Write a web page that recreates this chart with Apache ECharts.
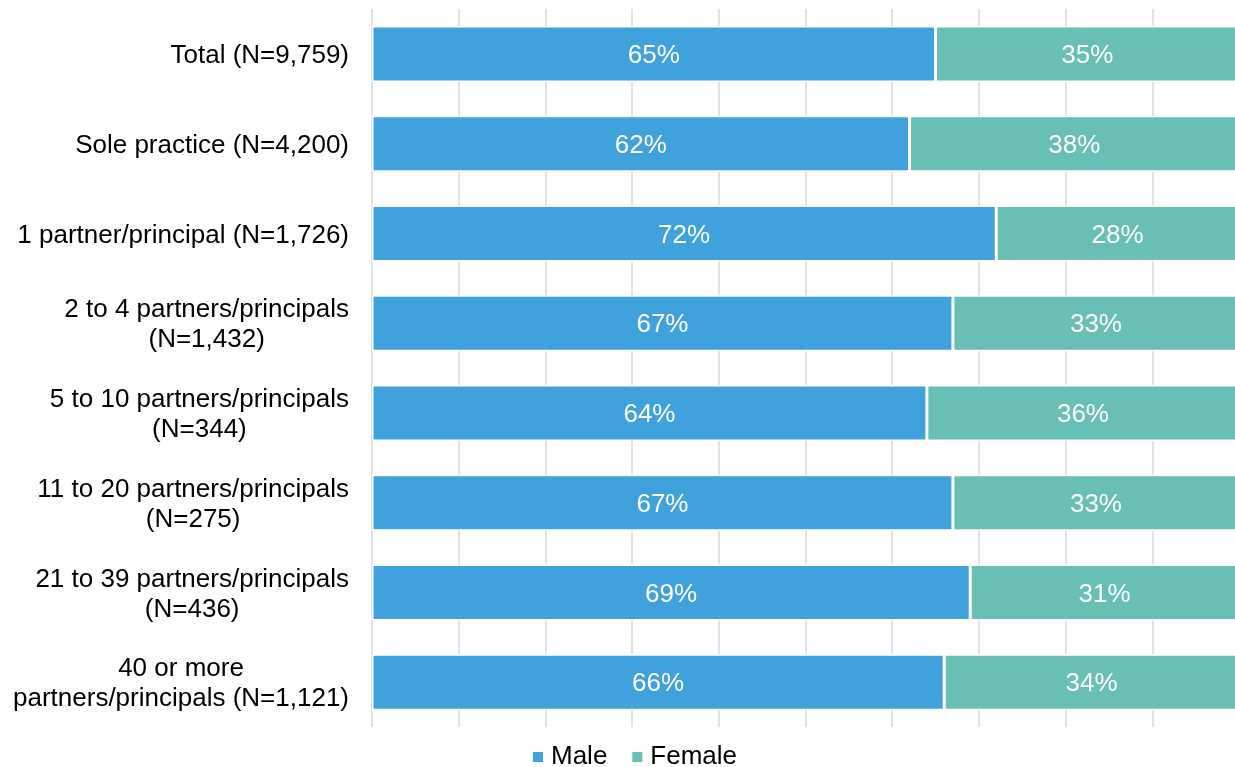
<!DOCTYPE html>
<html>
<head>
<meta charset="utf-8">
<script src="https://cdn.jsdelivr.net/npm/echarts@6/dist/echarts.min.js"></script>
<style>
  html, body { margin: 0; padding: 0; background: #ffffff; }
  #chart { width: 1235px; height: 767px; }
</style>
</head>
<body>
<div id="chart"></div>
<script>
// Practice-size groups, top to bottom
const categories = [
  'Total (N=9,759)',
  'Sole practice (N=4,200)',
  '1 partner/principal (N=1,726)',
  '2 to 4 partners/principals\n(N=1,432)',
  '5 to 10 partners/principals\n(N=344)',
  '11 to 20 partners/principals\n(N=275)',
  '21 to 39 partners/principals\n(N=436)',
  '40 or more\npartners/principals (N=1,121)'
];

// Share of each group, percent
const maleValues = [65, 62, 72, 67, 64, 67, 69, 66];
const femaleValues = [35, 38, 28, 33, 36, 33, 31, 34];

const seriesNames = ['Male', 'Female'];

const FONT = '"Liberation Sans", Arial, sans-serif';
const SIZE = 26;

// Wrap every line of a category label in a centred rich-text token so the
// lines centre on each other while the block stays right-aligned.
function centredLines(value) {
  return value.split('\n').map(function (line) { return '{c|' + line + '}'; }).join('\n');
}

function barLabel() {
  return {
    show: true,
    position: 'inside',
    offset: [0, 2],
    color: '#ffffff',
    fontFamily: FONT,
    fontSize: SIZE,
    formatter: function (p) { return p.value + '%'; }
  };
}

const chart = echarts.init(document.getElementById('chart'), null, { renderer: 'canvas' });

chart.setOption({
  animation: false,
  backgroundColor: '#ffffff',
  grid: { left: 372, top: 9, width: 867, height: 718, containLabel: false, outerBoundsMode: 'none' },
  xAxis: {
    type: 'value',
    min: 0,
    max: 100,
    interval: 10,
    axisLabel: { show: false },
    axisTick: { show: false },
    axisLine: { show: false },
    splitLine: { show: true, lineStyle: { color: '#d9d9d9', width: 1.5 } }
  },
  yAxis: {
    type: 'category',
    inverse: true,
    data: categories,
    axisTick: { show: false },
    axisLine: { show: false },
    axisLabel: {
      margin: 23,
      align: 'right',
      padding: [4, 0, 0, 0],
      color: '#000000',
      fontFamily: FONT,
      fontSize: SIZE,
      lineHeight: 30,
      formatter: centredLines,
      rich: {
        c: { align: 'center', fontFamily: FONT, fontSize: SIZE, lineHeight: 30, color: '#000000' }
      }
    }
  },
  legend: {
    data: seriesNames,
    left: 531,
    top: 744,
    padding: 0,
    itemWidth: 12,
    itemHeight: 12,
    itemGap: 23,
    icon: 'rect',
    textStyle: { fontFamily: FONT, fontSize: SIZE, color: '#000000', padding: [0, 0, 0, 2] }
  },
  series: [
    {
      name: seriesNames[0],
      type: 'bar',
      stack: 'share',
      barWidth: 56,
      data: maleValues,
      itemStyle: { color: '#40a2dc', borderColor: '#ffffff', borderWidth: 1.5 },
      label: barLabel()
    },
    {
      name: seriesNames[1],
      type: 'bar',
      stack: 'share',
      barWidth: 56,
      data: femaleValues,
      itemStyle: { color: '#67c0b3', borderColor: '#ffffff', borderWidth: 1.5 },
      label: barLabel()
    }
  ]
});
</script>
</body>
</html>
